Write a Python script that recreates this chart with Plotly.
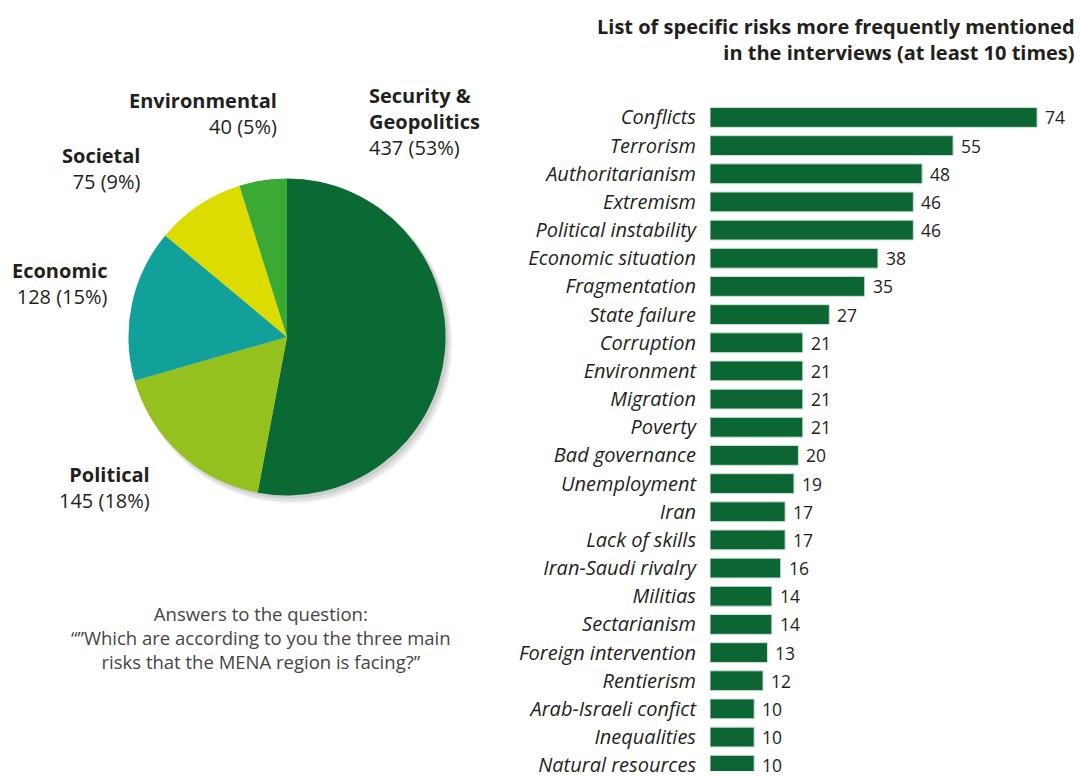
import plotly.graph_objects as go

# ---------------- data ----------------
pie_labels = ["Security &<br>Geopolitics", "Political", "Economic", "Societal", "Environmental"]
pie_values = [437, 145, 128, 75, 40]
pie_pct = [53, 18, 15, 9, 5]
pie_colors = ["#0b6934", "#95c11f", "#12a19a", "#dcdc00", "#3aaa35"]

risk_labels = ["Conflicts", "Terrorism", "Authoritarianism", "Extremism", "Political instability",
               "Economic situation", "Fragmentation", "State failure", "Corruption", "Environment",
               "Migration", "Poverty", "Bad governance", "Unemployment", "Iran", "Lack of skills",
               "Iran-Saudi rivalry", "Militias", "Sectarianism", "Foreign intervention", "Rentierism",
               "Arab-Israeli confict", "Inequalities", "Natural resources"]
risk_values = [74, 55, 48, 46, 46, 38, 35, 27, 21, 21, 21, 21, 20, 19, 17, 17, 16, 14, 14, 13, 12, 10, 10, 10]

title_text = "<b>List of specific risks more frequently mentioned<br>in the interviews (at least 10 times)</b>"
note_text = "Answers to the question:<br>“”Which are according to you the three main<br>risks that the MENA region is facing?”"

W, H = 1080, 778
FONT = "Open Sans"


def px_x(p):
    return p / W


def px_y(p):
    return 1 - p / H


fig = go.Figure()

# pie geometry (pixels)
cx, cy, r = 287, 340, 160

# soft shadow layers
for dx, dy, extra, alpha in [(5, 6, 2, 0.05), (4, 5, 1, 0.07), (3, 3, 0, 0.08)]:
    fig.add_trace(go.Pie(
        values=[1], marker=dict(colors=[f"rgba(0,0,0,{alpha})"], line=dict(width=0)),
        domain=dict(x=[px_x(cx + dx - r - extra), px_x(cx + dx + r + extra)],
                    y=[px_y(cy + dy + r + extra), px_y(cy + dy - r - extra)]),
        textinfo="none", hoverinfo="skip", showlegend=False, sort=False))

fig.add_trace(go.Pie(
    labels=pie_labels, values=pie_values,
    marker=dict(colors=pie_colors, line=dict(width=0)),
    domain=dict(x=[px_x(cx - r), px_x(cx + r)], y=[px_y(cy + r), px_y(cy - r)]),
    sort=False, direction="clockwise", rotation=0,
    textinfo="none", hoverinfo="label+value", showlegend=False))

# bars
fig.add_trace(go.Bar(
    x=risk_values, y=risk_labels, orientation="h",
    marker=dict(color="#0b6634", line=dict(color="#cfe0d4", width=1)),
    hoverinfo="x+y", showlegend=False))

annotations = []
# bar values
for lab, val in zip(risk_labels, risk_values):
    annotations.append(dict(x=val, y=lab, xref="x", yref="y", text=str(val), showarrow=False,
                            xanchor="left", xshift=6, font=dict(family=FONT, size=17.5, color="#231f20")))

# pie labels
pie_pos = [  # (x px, top y px, anchor)
    (367, 81, "left"),
    (152, 463, "right"),
    (110, 257, "right"),
    (143, 141, "right"),
    (279, 86, "right"),
]
for lab, val, pct, (x, y, anc) in zip(pie_labels, pie_values, pie_pct, pie_pos):
    annotations.append(dict(x=px_x(x), y=px_y(y), xref="paper", yref="paper",
                            text=f"<b>{lab}</b><br>{val} ({pct}%)", showarrow=False,
                            xanchor=anc, yanchor="top", align=anc,
                            font=dict(family=FONT, size=20, color="#231f20")))

# title
annotations.append(dict(x=px_x(1077), y=px_y(11), xref="paper", yref="paper", text=title_text,
                        showarrow=False, xanchor="right", yanchor="top", align="right",
                        font=dict(family=FONT, size=20, color="#231f20")))
# note
annotations.append(dict(x=px_x(261), y=px_y(604), xref="paper", yref="paper", text=note_text,
                        showarrow=False, xanchor="center", yanchor="top", align="center",
                        font=dict(family=FONT, size=18.5, color="#454545")))

# bar axis geometry
top_center, step = 118.5, 28.42
y_top_px = top_center - step / 2
bottom_val = (H - top_center) / step

fig.update_layout(
    width=W, height=H, margin=dict(l=0, r=0, t=0, b=0),
    paper_bgcolor="white", plot_bgcolor="white",
    font=dict(family=FONT, color="#231f20"),
    bargap=1 - 20 / step,
    xaxis=dict(domain=[px_x(710), 1.0], range=[0, (W - 710) / 4.42], visible=False, fixedrange=True),
    yaxis=dict(domain=[0, px_y(y_top_px)], range=[bottom_val, -0.5], type="category",
               showgrid=False, zeroline=False, showline=False, ticks="", ticklabelstandoff=13,
               tickfont=dict(family=FONT, size=20, style="italic", color="#231f20"), fixedrange=True),
    annotations=annotations,
)

fig.write_html("out.html")
